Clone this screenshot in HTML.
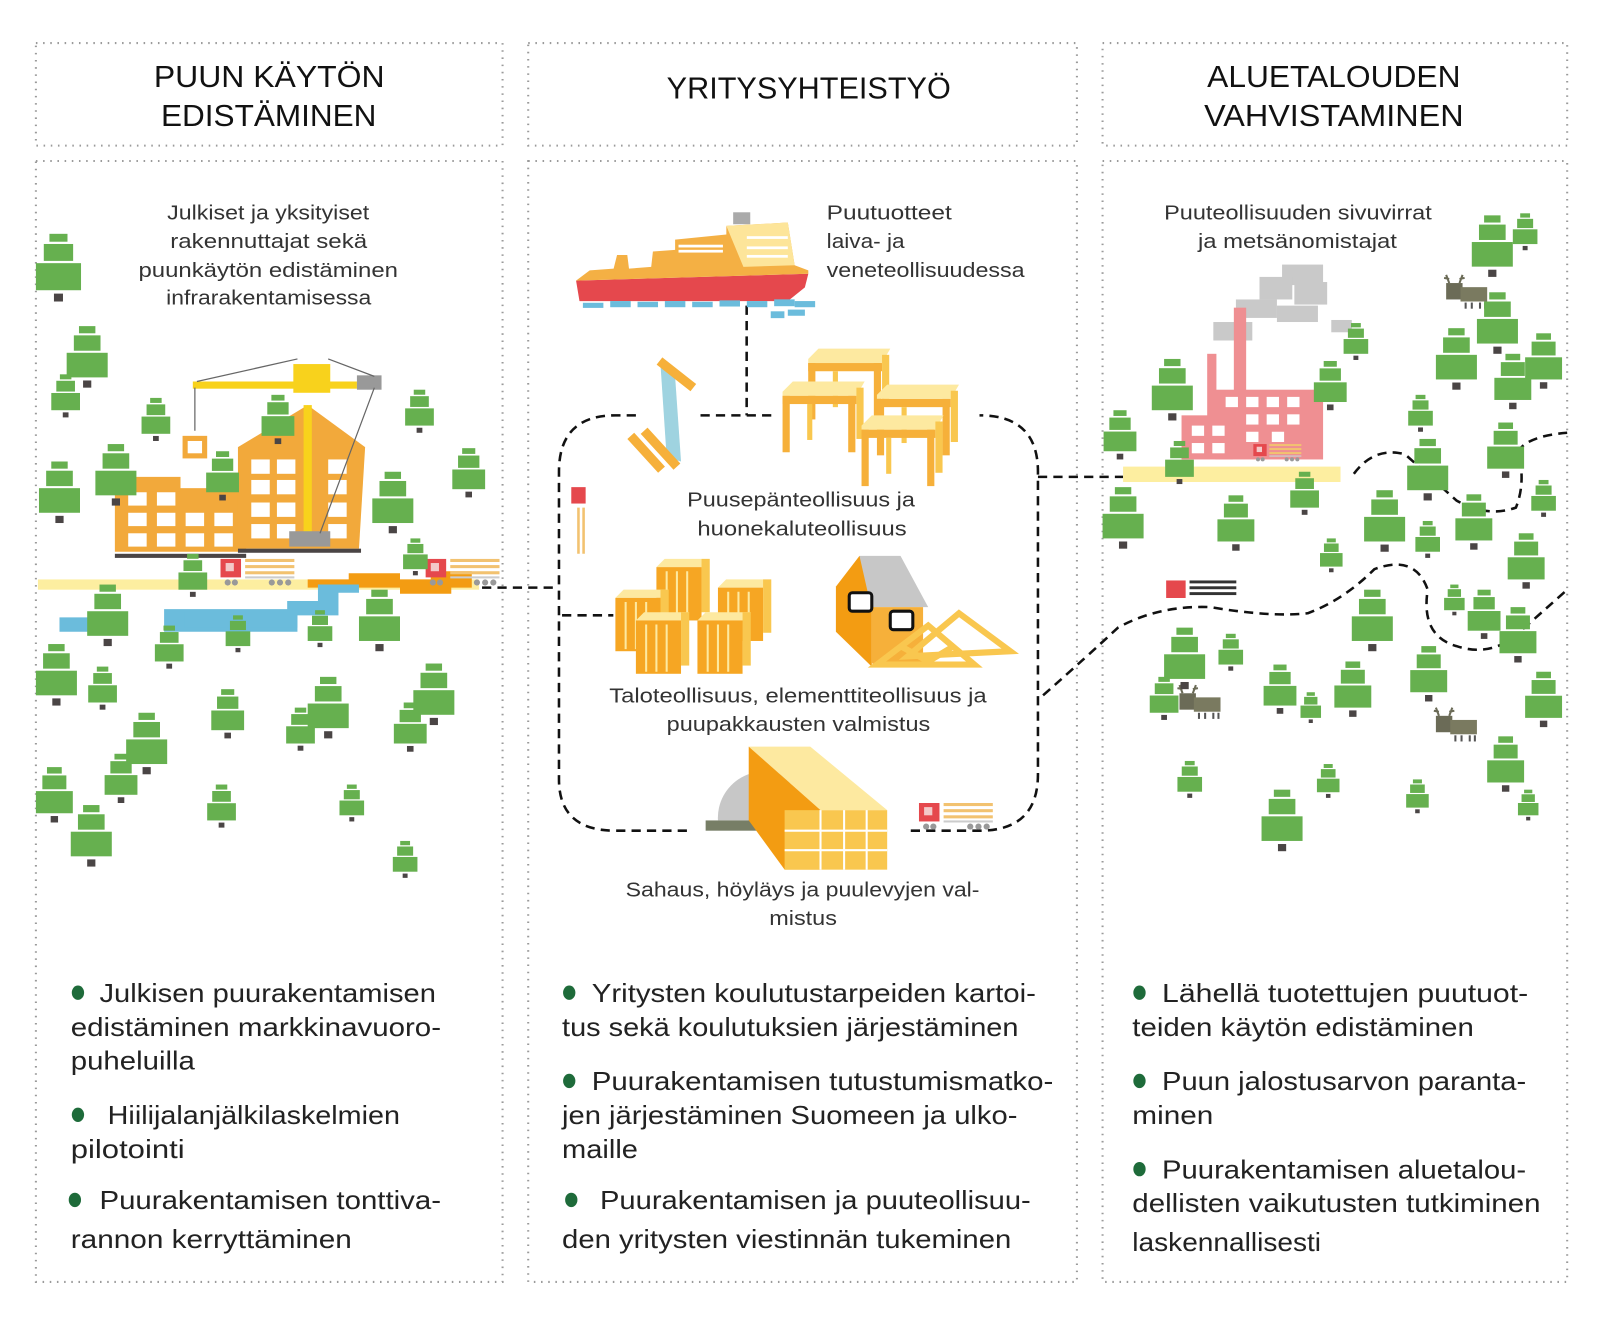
<!DOCTYPE html>
<html><head><meta charset="utf-8"><style>
html,body{margin:0;padding:0;background:#fff}
svg{display:block}
text{font-family:"Liberation Sans",sans-serif;fill:#222}
.h{font-size:30px;fill:#111}
.d{font-size:19.5px;fill:#333}
.b{font-size:25px;fill:#222}
</style></head><body>
<svg width="1600" height="1325" viewBox="0 0 1560 1292" preserveAspectRatio="none" xmlns="http://www.w3.org/2000/svg">
<defs>
<g id="t">
<rect x="-8" y="0" width="16" height="7" fill="#66b04f"/>
<rect x="-13" y="9" width="26" height="15" fill="#66b04f"/>
<rect x="-20" y="26" width="40" height="24" fill="#66b04f"/>
<rect x="-4" y="53" width="8" height="7" fill="#4a4545"/>
</g>
<g id="truck">
<rect x="0" y="0" width="20" height="18" fill="#e5484d"/>
<rect x="5" y="4" width="8" height="8" fill="#f3c9c9"/>
<rect x="24" y="0" width="48" height="3" fill="#f2c270"/>
<rect x="24" y="6" width="48" height="3" fill="#f2c270"/>
<rect x="24" y="12" width="48" height="3" fill="#f2c270"/>
<rect x="24" y="17" width="48" height="2" fill="#ccc"/>
<circle cx="7" cy="23" r="3" fill="#999"/><circle cx="14" cy="23" r="3" fill="#999"/>
<circle cx="50" cy="23" r="3" fill="#999"/><circle cx="58" cy="23" r="3" fill="#999"/><circle cx="66" cy="23" r="3" fill="#999"/>
</g>
<g id="deer">
<rect x="0" y="8" width="16" height="16" fill="#6b6b57"/>
<rect x="14" y="12" width="26" height="14" fill="#7a7a60"/>
<path d="M3 8 L0 0 M13 8 L16 0 M3 4 L-2 3 M13 4 L18 3" stroke="#6b6b57" stroke-width="2"/>
<rect x="18" y="27" width="2" height="6" fill="#555"/><rect x="24" y="27" width="2" height="6" fill="#555"/><rect x="32" y="27" width="2" height="6" fill="#555"/><rect x="37" y="27" width="2" height="6" fill="#555"/>
</g>
<g id="table">
<polygon points="0,10 10,0 80,0 72,14 0,14" fill="#fde9a0"/>
<rect x="0" y="14" width="72" height="8" fill="#f6b03a"/>
<rect x="0" y="14" width="7" height="55" fill="#f6b03a"/>
<rect x="64" y="14" width="7" height="55" fill="#f6b03a"/>
<rect x="24" y="22" width="5" height="35" fill="#f9c74f"/>
<rect x="72" y="6" width="7" height="50" fill="#f9c74f"/>
</g>
<g id="crate">
<polygon points="0,8 8,0 52,0 44,8" fill="#fde9a0"/>
<rect x="0" y="8" width="44" height="52" fill="#f6a623"/>
<rect x="44" y="0" width="8" height="52" fill="#f9c74f"/>
<path d="M10 12 V58 M20 12 V58 M30 12 V58" stroke="#fde9a0" stroke-width="2"/>
</g>
</defs>

<g fill="none" stroke="#9a9a9a" stroke-width="2" stroke-dasharray="1.5 5.5">
<rect x="35" y="42" width="455" height="100"/>
<rect x="515" y="42" width="535" height="100"/>
<rect x="1075" y="42" width="453" height="100"/>
<rect x="35" y="157" width="455" height="1093"/>
<rect x="515" y="157" width="535" height="1093"/>
<rect x="1075" y="157" width="453" height="1093"/>
</g>

<text class="h" x="150" y="85" textLength="225" lengthAdjust="spacingAndGlyphs">PUUN KÄYTÖN</text>
<text class="h" x="157" y="123" textLength="210" lengthAdjust="spacingAndGlyphs">EDISTÄMINEN</text>
<text class="h" x="650" y="96" textLength="277" lengthAdjust="spacingAndGlyphs">YRITYSYHTEISTYÖ</text>
<text class="h" x="1177" y="85" textLength="247" lengthAdjust="spacingAndGlyphs">ALUETALOUDEN</text>
<text class="h" x="1174" y="123" textLength="253" lengthAdjust="spacingAndGlyphs">VAHVISTAMINEN</text>

<rect x="37" y="565" width="430" height="10" fill="#fdeea0"/>
<path d="M300 565 h40 v-6 h50 v6 h30 v-8 h40 v16 h-20 v6 h-50 v-6 h-90z" fill="#f39c12"/>
<path d="M58 602 h40 v14 h-40z M160 594 h120 v-8 h30 v-16 h40 v8 h-20 v22 h-40 v16 h-130z" fill="#6bbcdc"/>
<rect x="180" y="597" width="110" height="15" fill="#6bbcdc"/>
<g fill="#f2a93b"><rect x="112" y="476" width="128" height="62"/><rect x="112" y="465" width="64" height="14"/></g>
<g fill="#fff"><rect x="125" y="480" width="18" height="13"/><rect x="153" y="480" width="18" height="13"/><rect x="125" y="500" width="18" height="13"/><rect x="153" y="500" width="18" height="13"/><rect x="181" y="500" width="18" height="13"/><rect x="209" y="500" width="18" height="13"/><rect x="125" y="520" width="18" height="13"/><rect x="153" y="520" width="18" height="13"/><rect x="181" y="520" width="18" height="13"/><rect x="209" y="520" width="18" height="13"/></g>
<rect x="112" y="540" width="128" height="4" fill="#4a4545"/>
<polygon points="232,436 300,395 356,436 350,535 232,535" fill="#f2a93b"/>
<g fill="#fff"><rect x="245" y="448" width="18" height="14"/><rect x="270" y="448" width="18" height="14"/><rect x="320" y="448" width="18" height="14"/><rect x="245" y="468" width="18" height="14"/><rect x="270" y="468" width="18" height="14"/><rect x="320" y="468" width="18" height="14"/><rect x="245" y="490" width="18" height="14"/><rect x="270" y="490" width="18" height="14"/><rect x="320" y="490" width="18" height="14"/><rect x="245" y="511" width="18" height="14"/><rect x="270" y="511" width="18" height="14"/><rect x="320" y="511" width="18" height="14"/></g>
<rect x="232" y="535" width="120" height="4" fill="#4a4545"/>
<rect x="296" y="395" width="8" height="125" fill="#f8d21c"/>
<rect x="188" y="372" width="160" height="7" fill="#f8d21c"/>
<rect x="286" y="355" width="36" height="28" fill="#f8d21c"/>
<rect x="348" y="366" width="24" height="14" fill="#999"/>
<rect x="282" y="518" width="40" height="15" fill="#999"/>
<path d="M192 372 L290 350 M320 350 L365 367 M190 378 V420 M365 378 L312 520" stroke="#666" stroke-width="1.2" fill="none"/>
<rect x="178" y="425" width="24" height="22" fill="#f2a93b"/><rect x="183" y="430" width="14" height="12" fill="#fff"/>
<use href="#truck" x="215" y="545"/>
<use href="#truck" x="415" y="545"/>
<g>
<use href="#t" x="57" y="228" transform="translate(57 228) scale(1.1) translate(-57 -228)"/>
<use href="#t" x="85" y="318"/>
<use href="#t" x="64" y="365" transform="translate(64 365) scale(.7) translate(-64 -365)"/>
<use href="#t" x="152" y="388" transform="translate(152 388) scale(.7) translate(-152 -388)"/>
<use href="#t" x="409" y="380" transform="translate(409 380) scale(.7) translate(-409 -380)"/>
<use href="#t" x="457" y="437" transform="translate(457 437) scale(.8) translate(-457 -437)"/>
<use href="#t" x="113" y="433"/>
<use href="#t" x="58" y="450"/>
<use href="#t" x="383" y="460"/>
<use href="#t" x="271" y="385" transform="translate(271 385) scale(.8) translate(-271 -385)"/>
<use href="#t" x="217" y="440" transform="translate(217 440) scale(.8) translate(-217 -440)"/>
<use href="#t" x="188" y="540" transform="translate(188 540) scale(.7) translate(-188 -540)"/>
<use href="#t" x="405" y="525" transform="translate(405 525) scale(.6) translate(-405 -525)"/>
<use href="#t" x="105" y="570"/>
<use href="#t" x="370" y="575"/>
<use href="#t" x="165" y="610" transform="translate(165 610) scale(.7) translate(-165 -610)"/>
<use href="#t" x="232" y="600" transform="translate(232 600) scale(.6) translate(-232 -600)"/>
<use href="#t" x="312" y="595" transform="translate(312 595) scale(.6) translate(-312 -595)"/>
<use href="#t" x="55" y="628"/>
<use href="#t" x="100" y="650" transform="translate(100 650) scale(.7) translate(-100 -650)"/>
<use href="#t" x="222" y="672" transform="translate(222 672) scale(.8) translate(-222 -672)"/>
<use href="#t" x="320" y="660"/>
<use href="#t" x="423" y="647"/>
<use href="#t" x="293" y="690" transform="translate(293 690) scale(.7) translate(-293 -690)"/>
<use href="#t" x="400" y="685" transform="translate(400 685) scale(.8) translate(-400 -685)"/>
<use href="#t" x="143" y="695"/>
<use href="#t" x="118" y="735" transform="translate(118 735) scale(.8) translate(-118 -735)"/>
<use href="#t" x="53" y="748" transform="translate(53 748) scale(.9) translate(-53 -748)"/>
<use href="#t" x="216" y="765" transform="translate(216 765) scale(.7) translate(-216 -765)"/>
<use href="#t" x="343" y="765" transform="translate(343 765) scale(.6) translate(-343 -765)"/>
<use href="#t" x="89" y="785"/>
<use href="#t" x="395" y="820" transform="translate(395 820) scale(.6) translate(-395 -820)"/>
</g>

<g fill="none" stroke="#111" stroke-width="2.5" stroke-dasharray="9 6">
<path d="M470 573 H545"/>
<path d="M620 405 H600 Q545 405 545 460 V760 Q545 810 600 810 H672"/>
<path d="M888 810 H955 Q1012 810 1012 755 V460 Q1012 405 955 405"/>
<path d="M683 405 H755 M728 298 V405"/>
<path d="M548 600 H598"/>
<path d="M1012 465 H1095"/>
<path d="M1017 678 Q1060 640 1090 612 Q1130 590 1180 592 Q1240 602 1275 598 Q1310 585 1340 555 Q1380 540 1392 575 Q1385 620 1420 630 Q1450 640 1475 622 Q1500 600 1528 575"/>
<path d="M1320 462 Q1340 435 1370 443 Q1400 470 1420 488 Q1450 505 1478 495 Q1488 470 1480 440 Q1490 425 1528 422"/>
</g>

<g transform="translate(555 197) scale(.333)">
<polygon points="20,230 700,210 690,250 640,290 30,290" fill="#e5484d"/>
<polygon points="60,200 130,195 140,155 170,155 175,195 240,190 245,145 310,140 310,110 460,95 460,70 640,60 660,185 700,200 700,210 20,230" fill="#f4b044"/>
<polygon points="460,70 640,60 660,185 510,190" fill="#fde59a"/>
<rect x="480" y="30" width="50" height="35" fill="#aaa"/>
<g fill="#fff"><rect x="320" y="125" width="130" height="8"/><rect x="320" y="140" width="130" height="8"/><rect x="520" y="100" width="120" height="8"/><rect x="520" y="130" width="120" height="8"/><rect x="520" y="155" width="120" height="8"/></g>
<g fill="#6bbcdc"><rect x="40" y="295" width="60" height="15"/><rect x="120" y="290" width="60" height="18"/><rect x="200" y="292" width="60" height="16"/><rect x="280" y="290" width="60" height="18"/><rect x="360" y="292" width="60" height="16"/><rect x="440" y="288" width="60" height="18"/><rect x="520" y="290" width="60" height="18"/><rect x="600" y="285" width="60" height="20"/><rect x="660" y="290" width="60" height="18"/><rect x="590" y="320" width="40" height="20"/><rect x="640" y="315" width="50" height="18"/></g>
</g>

<polygon points="644,356 658,364 664,450 650,446" fill="#9fd3e0"/>
<path d="M643 352 L676 378 M615 425 L645 458 M628 420 L660 455" stroke="#f6b03a" stroke-width="9"/>
<use href="#table" x="788" y="340"/>
<use href="#table" x="763" y="372"/>
<use href="#table" x="855" y="375"/>
<use href="#table" x="840" y="405"/>
<rect x="557" y="475" width="14" height="16" fill="#e5484d"/>
<path d="M564 495 V540 M569 495 V540" stroke="#f2c270" stroke-width="2.5"/>
<use href="#crate" x="640" y="545"/>
<use href="#crate" x="700" y="565"/>
<use href="#crate" x="600" y="575"/>
<use href="#crate" x="620" y="597"/>
<use href="#crate" x="680" y="597"/>
<polygon points="838,542 878,542 905,592 830,592" fill="#c7c7c7"/>
<polygon points="838,542 815,572 815,616 850,650 850,595" fill="#f39c12"/>
<rect x="850" y="592" width="50" height="55" fill="#f6b03a"/>
<rect x="828" y="578" width="22" height="18" rx="3" fill="#fff" stroke="#111" stroke-width="3"/>
<rect x="868" y="596" width="22" height="18" rx="3" fill="#fff" stroke="#111" stroke-width="3"/>
<g fill="none" stroke="#f9c74f" stroke-width="6"><path d="M855 648 L905 610 L950 648 Z M878 630 L905 645 L930 630"/><path d="M885 640 L935 598 L985 635 Z"/></g>
<path d="M700 800 A45 45 0 0 1 770 760 V800Z" fill="#c7c7c7"/>
<rect x="688" y="800" width="82" height="10" fill="#777e66"/>
<polygon points="730,728 790,728 865,790 800,790" fill="#fde9a0"/>
<polygon points="730,728 800,790 800,848 765,848 730,800" fill="#f39c12"/>
<rect x="765" y="790" width="100" height="58" fill="#f9c74f"/>
<path d="M765 810 H865 M765 829 H865 M800 790 V848 M823 790 V848 M845 790 V848" stroke="#fff" stroke-width="2"/>
<use href="#truck" x="896" y="783"/>

<g fill="#c9c9c9"><rect x="1250" y="258" width="40" height="20"/><rect x="1228" y="270" width="32" height="22"/><rect x="1262" y="275" width="32" height="22"/><rect x="1205" y="292" width="40" height="18"/><rect x="1245" y="298" width="40" height="16"/><rect x="1183" y="314" width="38" height="18"/><rect x="1298" y="312" width="20" height="12"/></g>
<rect x="1095" y="455" width="212" height="15" fill="#fdeea0"/>
<rect x="1177" y="345" width="9" height="70" fill="#ef8f92"/>
<rect x="1203" y="300" width="12" height="100" fill="#ef8f92"/>
<rect x="1185" y="380" width="105" height="68" fill="#ef8f92"/>
<rect x="1152" y="405" width="50" height="43" fill="#ef8f92"/>
<g fill="#fff"><rect x="1195" y="387" width="12" height="10"/><rect x="1215" y="387" width="12" height="10"/><rect x="1235" y="387" width="12" height="10"/><rect x="1255" y="387" width="12" height="10"/><rect x="1215" y="404" width="12" height="10"/><rect x="1235" y="404" width="12" height="10"/><rect x="1255" y="404" width="12" height="10"/><rect x="1162" y="415" width="12" height="10"/><rect x="1182" y="415" width="12" height="10"/><rect x="1162" y="432" width="12" height="10"/><rect x="1182" y="432" width="12" height="10"/><rect x="1215" y="421" width="12" height="10"/><rect x="1240" y="421" width="12" height="10"/></g>
<g transform="translate(1222 433) scale(.65)"><use href="#truck"/></g>
<g transform="translate(1137 566) scale(.95)"><rect width="20" height="18" fill="#e5484d"/><rect x="24" y="0" width="48" height="3" fill="#333"/><rect x="24" y="6" width="48" height="3" fill="#333"/><rect x="24" y="12" width="48" height="3" fill="#333"/></g>
<use href="#deer" x="1410" y="268"/>
<use href="#deer" x="1150" y="668"/>
<use href="#deer" x="1400" y="690"/>
<g>
<use href="#t" x="1455" y="210"/>
<use href="#t" x="1487" y="208" transform="translate(1487 208) scale(.6) translate(-1487 -208)"/>
<use href="#t" x="1460" y="285"/>
<use href="#t" x="1420" y="320"/>
<use href="#t" x="1505" y="325" transform="translate(1505 325) scale(.9) translate(-1505 -325)"/>
<use href="#t" x="1475" y="345" transform="translate(1475 345) scale(.9) translate(-1475 -345)"/>
<use href="#t" x="1322" y="315" transform="translate(1322 315) scale(.6) translate(-1322 -315)"/>
<use href="#t" x="1297" y="352" transform="translate(1297 352) scale(.8) translate(-1297 -352)"/>
<use href="#t" x="1143" y="350"/>
<use href="#t" x="1092" y="400" transform="translate(1092 400) scale(.8) translate(-1092 -400)"/>
<use href="#t" x="1385" y="385" transform="translate(1385 385) scale(.6) translate(-1385 -385)"/>
<use href="#t" x="1468" y="412" transform="translate(1468 412) scale(.9) translate(-1468 -412)"/>
<use href="#t" x="1392" y="428"/>
<use href="#t" x="1272" y="460" transform="translate(1272 460) scale(.7) translate(-1272 -460)"/>
<use href="#t" x="1150" y="430" transform="translate(1150 430) scale(.7) translate(-1150 -430)"/>
<use href="#t" x="1505" y="468" transform="translate(1505 468) scale(.6) translate(-1505 -468)"/>
<use href="#t" x="1437" y="482" transform="translate(1437 482) scale(.9) translate(-1437 -482)"/>
<use href="#t" x="1350" y="478"/>
<use href="#t" x="1205" y="483" transform="translate(1205 483) scale(.9) translate(-1205 -483)"/>
<use href="#t" x="1095" y="475"/>
<use href="#t" x="1392" y="508" transform="translate(1392 508) scale(.6) translate(-1392 -508)"/>
<use href="#t" x="1298" y="525" transform="translate(1298 525) scale(.55) translate(-1298 -525)"/>
<use href="#t" x="1488" y="520" transform="translate(1488 520) scale(.9) translate(-1488 -520)"/>
<use href="#t" x="1418" y="570" transform="translate(1418 570) scale(.5) translate(-1418 -570)"/>
<use href="#t" x="1447" y="575" transform="translate(1447 575) scale(.8) translate(-1447 -575)"/>
<use href="#t" x="1338" y="575"/>
<use href="#t" x="1480" y="592" transform="translate(1480 592) scale(.9) translate(-1480 -592)"/>
<use href="#t" x="1155" y="612"/>
<use href="#t" x="1200" y="618" transform="translate(1200 618) scale(.6) translate(-1200 -618)"/>
<use href="#t" x="1248" y="648" transform="translate(1248 648) scale(.8) translate(-1248 -648)"/>
<use href="#t" x="1319" y="645" transform="translate(1319 645) scale(.9) translate(-1319 -645)"/>
<use href="#t" x="1393" y="630" transform="translate(1393 630) scale(.9) translate(-1393 -630)"/>
<use href="#t" x="1505" y="655" transform="translate(1505 655) scale(.9) translate(-1505 -655)"/>
<use href="#t" x="1278" y="675" transform="translate(1278 675) scale(.5) translate(-1278 -675)"/>
<use href="#t" x="1135" y="660" transform="translate(1135 660) scale(.7) translate(-1135 -660)"/>
<use href="#t" x="1468" y="718" transform="translate(1468 718) scale(.9) translate(-1468 -718)"/>
<use href="#t" x="1160" y="742" transform="translate(1160 742) scale(.6) translate(-1160 -742)"/>
<use href="#t" x="1295" y="745" transform="translate(1295 745) scale(.55) translate(-1295 -745)"/>
<use href="#t" x="1382" y="760" transform="translate(1382 760) scale(.55) translate(-1382 -760)"/>
<use href="#t" x="1490" y="770" transform="translate(1490 770) scale(.5) translate(-1490 -770)"/>
<use href="#t" x="1250" y="770"/>
</g>

<text class="d" x="163" y="214" textLength="197" lengthAdjust="spacingAndGlyphs">Julkiset ja yksityiset</text>
<text class="d" x="166" y="242" textLength="192" lengthAdjust="spacingAndGlyphs">rakennuttajat  sekä</text>
<text class="d" x="135" y="270" textLength="253" lengthAdjust="spacingAndGlyphs">puunkäytön edistäminen</text>
<text class="d" x="162" y="297" textLength="200" lengthAdjust="spacingAndGlyphs">infrarakentamisessa</text>
<text class="d" x="806" y="214" textLength="122" lengthAdjust="spacingAndGlyphs">Puutuotteet</text>
<text class="d" x="806" y="242" textLength="76" lengthAdjust="spacingAndGlyphs">laiva- ja</text>
<text class="d" x="806" y="270" textLength="193" lengthAdjust="spacingAndGlyphs">veneteollisuudessa</text>
<text class="d" x="670" y="494" textLength="222" lengthAdjust="spacingAndGlyphs">Puusepänteollisuus ja</text>
<text class="d" x="680" y="522" textLength="204" lengthAdjust="spacingAndGlyphs">huonekaluteollisuus</text>
<text class="d" x="594" y="685" textLength="368" lengthAdjust="spacingAndGlyphs">Taloteollisuus, elementtiteollisuus ja</text>
<text class="d" x="650" y="713" textLength="257" lengthAdjust="spacingAndGlyphs">puupakkausten valmistus</text>
<text class="d" x="610" y="874" textLength="345" lengthAdjust="spacingAndGlyphs">Sahaus, höyläys ja puulevyjen val-</text>
<text class="d" x="750" y="902" textLength="66" lengthAdjust="spacingAndGlyphs">mistus</text>
<text class="d" x="1135" y="214" textLength="261" lengthAdjust="spacingAndGlyphs">Puuteollisuuden sivuvirrat</text>
<text class="d" x="1168" y="242" textLength="194" lengthAdjust="spacingAndGlyphs">ja metsänomistajat</text>

<g fill="#1e6b3a">
<ellipse cx="76" cy="968" rx="6" ry="7"/><ellipse cx="76" cy="1087" rx="6" ry="7"/><ellipse cx="73" cy="1170" rx="6" ry="7"/>
<ellipse cx="555" cy="968" rx="6" ry="7"/><ellipse cx="555" cy="1054" rx="6" ry="7"/><ellipse cx="557" cy="1170" rx="6" ry="7"/>
<ellipse cx="1111" cy="968" rx="6" ry="7"/><ellipse cx="1111" cy="1054" rx="6" ry="7"/><ellipse cx="1111" cy="1140" rx="6" ry="7"/>
</g>
<text class="b" x="97" y="977" textLength="328" lengthAdjust="spacingAndGlyphs">Julkisen puurakentamisen</text>
<text class="b" x="69" y="1010" textLength="361" lengthAdjust="spacingAndGlyphs">edistäminen markkinavuoro-</text>
<text class="b" x="69" y="1043" textLength="121" lengthAdjust="spacingAndGlyphs">puheluilla</text>
<text class="b" x="105" y="1096" textLength="285" lengthAdjust="spacingAndGlyphs">Hiilijalanjälkilaskelmien</text>
<text class="b" x="69" y="1129" textLength="111" lengthAdjust="spacingAndGlyphs">pilotointi</text>
<text class="b" x="97" y="1179" textLength="333" lengthAdjust="spacingAndGlyphs">Puurakentamisen tonttiva-</text>
<text class="b" x="69" y="1217" textLength="274" lengthAdjust="spacingAndGlyphs">rannon kerryttäminen</text>

<text class="b" x="577" y="977" textLength="433" lengthAdjust="spacingAndGlyphs">Yritysten koulutustarpeiden kartoi-</text>
<text class="b" x="548" y="1010" textLength="445" lengthAdjust="spacingAndGlyphs">tus sekä koulutuksien järjestäminen</text>
<text class="b" x="577" y="1063" textLength="450" lengthAdjust="spacingAndGlyphs">Puurakentamisen tutustumismatko-</text>
<text class="b" x="548" y="1096" textLength="444" lengthAdjust="spacingAndGlyphs">jen järjestäminen Suomeen ja ulko-</text>
<text class="b" x="548" y="1129" textLength="74" lengthAdjust="spacingAndGlyphs">maille</text>
<text class="b" x="585" y="1179" textLength="420" lengthAdjust="spacingAndGlyphs">Puurakentamisen ja puuteollisuu-</text>
<text class="b" x="548" y="1217" textLength="438" lengthAdjust="spacingAndGlyphs">den yritysten viestinnän tukeminen</text>

<text class="b" x="1133" y="977" textLength="357" lengthAdjust="spacingAndGlyphs">Lähellä tuotettujen puutuot-</text>
<text class="b" x="1104" y="1010" textLength="333" lengthAdjust="spacingAndGlyphs">teiden käytön edistäminen</text>
<text class="b" x="1133" y="1063" textLength="355" lengthAdjust="spacingAndGlyphs">Puun jalostusarvon paranta-</text>
<text class="b" x="1104" y="1096" textLength="79" lengthAdjust="spacingAndGlyphs">minen</text>
<text class="b" x="1133" y="1149" textLength="355" lengthAdjust="spacingAndGlyphs">Puurakentamisen aluetalou-</text>
<text class="b" x="1104" y="1182" textLength="398" lengthAdjust="spacingAndGlyphs">dellisten vaikutusten tutkiminen</text>
<text class="b" x="1104" y="1220" textLength="184" lengthAdjust="spacingAndGlyphs">laskennallisesti</text>
</svg>
</body></html>
